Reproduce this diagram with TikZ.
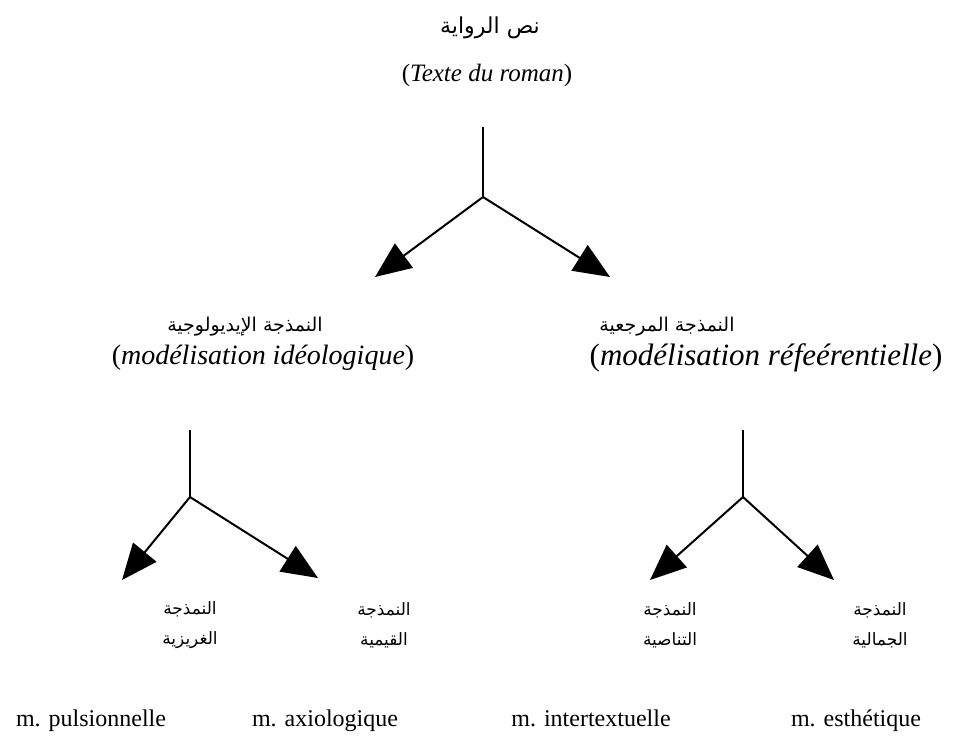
\documentclass[tikz,border=0pt]{standalone}
\usepackage{fontspec}
\setmainfont{Liberation Serif}
\newfontfamily\arabicfont[Script=Arabic]{DejaVu Sans}
\TeXXeTstate=1
\usetikzlibrary{arrows.meta}
\tikzset{
  >={Triangle[length=18pt,width=15pt]},
  ar/.style={font=\arabicfont\fontsize{8.5}{15}\selectfont, inner sep=1pt, align=center},
  fr/.style={font=\fontsize{14}{16}\selectfont, inner sep=1pt},
  leaf/.style={font=\fontsize{12}{14}\selectfont, inner sep=1pt, anchor=base},
  branch/.style={->, line width=1pt},
}

\begin{document}
\begin{tikzpicture}[x=0.5pt, y=-0.5pt, line width=1pt]
  \useasboundingbox (0,0) rectangle (978,746);
  % title
  \node[ar, font=\arabicfont\fontsize{11}{13}\selectfont] (nass) at (490,28) {\beginR نص الرواية\endR};
  \node[fr, font=\fontsize{12.5}{14}\selectfont] (roman) at (487,75) {(\textit{Texte du roman})};
  % first split
  \coordinate (topStem) at (483,127);
  \coordinate (topFork) at (483,197);
  \coordinate (ideoTip) at (375,277);
  \coordinate (refTip) at (610,277);
  \draw[line width=1.3pt] (topStem) -- (topFork);
  \draw[branch] (topFork) -- (ideoTip);
  \draw[branch] (topFork) -- (refTip);
  % the two models
  \node[ar, font=\arabicfont\fontsize{9.5}{12}\selectfont] (ideoAr) at (245,327) {\beginR النمذجة الإيديولوجية\endR};
  \node[fr] (ideo) at (263,358) {(\textit{modélisation idéologique})};
  \node[ar, font=\arabicfont\fontsize{9.5}{12}\selectfont] (refAr) at (667,327) {\beginR النمذجة المرجعية\endR};
  \node[fr, font=\fontsize{15.5}{17}\selectfont] (ref) at (766,358) {(\textit{modélisation réfeérentielle})};
  % left split
  \coordinate (lStem) at (190,430);
  \coordinate (lFork) at (190,497);
  \coordinate (pulsTip) at (122,580);
  \coordinate (axioTip) at (318,578);
  \draw (lStem) -- (lFork);
  \draw[branch] (lFork) -- (pulsTip);
  \draw[branch] (lFork) -- (axioTip);
  % right split
  \coordinate (rStem) at (743,430);
  \coordinate (rFork) at (743,497);
  \coordinate (interTip) at (650,580);
  \coordinate (esthTip) at (834,580);
  \draw (rStem) -- (rFork);
  \draw[branch] (rFork) -- (interTip);
  \draw[branch] (rFork) -- (esthTip);
  % leaves
  \node[ar] (pulsAr) at (190,625) {\beginR النمذجة\endR\\\beginR الغريزية\endR};
  \node[ar] (axioAr) at (384,625) {\beginR النمذجة\endR\\\beginR القيمية\endR};
  \node[ar] (interAr) at (670,625) {\beginR النمذجة\endR\\\beginR التناصية\endR};
  \node[ar] (esthAr) at (880,625) {\beginR النمذجة\endR\\\beginR الجمالية\endR};
  \node[leaf] (puls) at (91,726) {m. pulsionnelle};
  \node[leaf] (axio) at (325,726) {m. axiologique};
  \node[leaf] (inter) at (591,726) {m. intertextuelle};
  \node[leaf] (esth) at (856,726) {m. esthétique};
\end{tikzpicture}
\end{document}
